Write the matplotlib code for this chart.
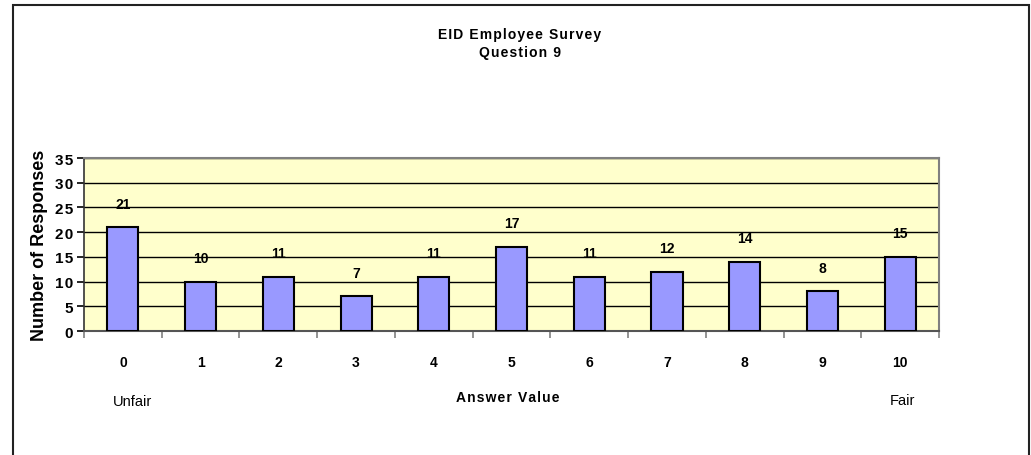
import matplotlib.pyplot as plt
from matplotlib.patches import Rectangle
import numpy as np

# Данные опроса
answers = ["0", "1", "2", "3", "4", "5", "6", "7", "8", "9", "10"]
responses = [21, 10, 11, 7, 11, 17, 11, 12, 14, 8, 15]
y_ticks = [0, 5, 10, 15, 20, 25, 30, 35]

plt.rcParams["font.family"] = ["Liberation Sans", "DejaVu Sans"]


def spaced(text):
    # разрядка букв, как в Excel
    return "\u200a".join(text)


fig = plt.figure(figsize=(10.31, 4.56), dpi=100)
ax = fig.add_axes([0.0815, 0.2719, 0.8293, 0.3794])

x = np.arange(len(answers))
ax.bar(x, responses, width=0.4, color="#9999FF", edgecolor="black", linewidth=1.5, zorder=3)

for xi, v in zip(x, responses):
    ax.annotate(str(v), (xi, v), xytext=(0, 17), textcoords="offset points",
                ha="center", va="center", fontsize=10, fontweight="bold")

ax.set_facecolor("#FFFFCC")
ax.set_xlim(-0.5, len(answers) - 0.5)
ax.set_ylim(0, 35)
ax.set_yticks(y_ticks)
ax.yaxis.grid(True, color="black", linewidth=1, zorder=0)
ax.set_axisbelow(True)

ax.set_xticks(x)
ax.set_xticklabels(answers, fontsize=10, fontweight="bold")
ax.tick_params(axis="x", which="major", length=0, pad=17)
ax.set_xticks(np.arange(-0.5, len(answers)), minor=True)
ax.tick_params(axis="x", which="minor", length=5, color="#808080", width=1.2)
ax.set_yticklabels([spaced(str(t)) for t in y_ticks])
ax.tick_params(axis="y", length=5, width=1.2, pad=3, labelsize=11)
for lbl in ax.get_yticklabels():
    lbl.set_fontweight("bold")

for side in ["top", "right"]:
    ax.spines[side].set_color("#808080")
    ax.spines[side].set_linewidth(1.5)
ax.spines["left"].set_color("#333333")
ax.spines["left"].set_linewidth(1.2)
ax.spines["bottom"].set_color("#555555")
ax.spines["bottom"].set_linewidth(1.5)

ax.set_ylabel("Number of Responses", fontsize=13, fontweight="bold", labelpad=5)

fig.text(520 / 1031, 1 - 35 / 456, spaced("EID Employee Survey"),
         ha="center", va="center", fontsize=10, fontweight="bold")
fig.text(520 / 1031, 1 - 53 / 456, spaced("Question 9"),
         ha="center", va="center", fontsize=10, fontweight="bold")
fig.text(508 / 1031, 1 - 398 / 456, spaced("Answer Value"),
         ha="center", va="center", fontsize=10, fontweight="bold")
fig.text(133 / 1031, 1 - 402 / 456, "Unfair", ha="center", va="center", fontsize=10.5)
fig.text(902 / 1031, 1 - 401 / 456, "Fair", ha="center", va="center", fontsize=10.5)

# Рамка вокруг диаграммы
fig.patches.append(Rectangle((12.7 / 1031, -0.05), (1029 - 12.7) / 1031, 0.05 + 1 - 6 / 456,
                             transform=fig.transFigure, fill=False, edgecolor="#222222", linewidth=1.5))

plt.savefig("out.png", dpi=100)
plt.close()
